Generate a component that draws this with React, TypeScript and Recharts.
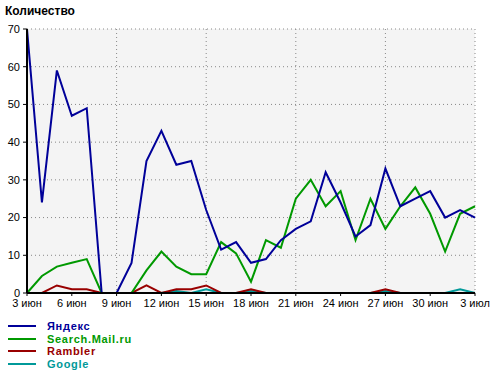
import React from "react";
import { LineChart, Line, XAxis, YAxis, CartesianGrid } from "recharts";

const days = [
  "3 июн", "4 июн", "5 июн", "6 июн", "7 июн", "8 июн", "9 июн", "10 июн",
  "11 июн", "12 июн", "13 июн", "14 июн", "15 июн", "16 июн", "17 июн", "18 июн",
  "19 июн", "20 июн", "21 июн", "22 июн", "23 июн", "24 июн", "25 июн", "26 июн",
  "27 июн", "28 июн", "29 июн", "30 июн", "1 июл", "2 июл", "3 июл",
];

const yandex = [70, 24, 59, 47, 49, 0, 0, 8, 35, 43, 34, 35, 22, 11.5, 13.5, 8, 9, 14, 17, 19, 32, 24, 15, 18, 33, 23, 25, 27, 20, 22, 20];
const mail = [0, 4.5, 7, 8, 9, 0, 0, 0, 6, 11, 7, 5, 5, 13.5, 10.5, 3, 14, 12, 25, 30, 23, 27, 14, 25, 17, 23, 28, 21, 11, 21, 23];
const rambler = [0, 0, 2, 1, 1, 0, 0, 0, 2, 0, 1, 1, 2, 0, 0, 1, 0, 0, 0, 0, 0, 0, 0, 0, 1, 0, 0, 0, 0, 0, 0];
const google = [0, 0, 0, 0, 0, 0, 0, 0, 0, 0, 0.5, 0, 1, 0, 0, 0.5, 0, 0, 0, 0, 0, 0, 0, 0, 0.5, 0, 0, 0, 0, 1, 0];

const xTicks = [0, 3, 6, 9, 12, 15, 18, 21, 24, 27, 30];
const yTicks = [0, 10, 20, 30, 40, 50, 60, 70];

const series = [
  { key: "yandex", name: "Яндекс", color: "#000099" },
  { key: "mail", name: "Search.Mail.ru", color: "#009900" },
  { key: "rambler", name: "Rambler", color: "#990000" },
  { key: "google", name: "Google", color: "#009999" },
];

const data = days.map((d, i) => ({
  i,
  yandex: yandex[i],
  mail: mail[i],
  rambler: rambler[i],
  google: google[i],
}));

const FONT = "'Liberation Sans', Arial, sans-serif";

export default function App() {
  return (
    <div style={{ position: "absolute", left: 0, top: 0, width: 500, height: 376, background: "#fff", fontFamily: FONT }}>
      <div style={{ position: "absolute", left: 5, top: 4, fontSize: 12, fontWeight: "bold", color: "#000" }}>
        Количество
      </div>
      <LineChart width={500} height={376} data={data} margin={{ top: 29, right: 25, left: 0, bottom: 63 }}>
        <CartesianGrid stroke="#888" strokeDasharray="1 3" fill="#f4f4f4" />
        <XAxis
          dataKey="i"
          type="number"
          domain={[0, 30]}
          ticks={xTicks}
          tickFormatter={(v: number) => days[v]}
          height={20}
          tickSize={3}
          tickMargin={3}
          axisLine={{ stroke: "#000", strokeWidth: 2 }}
          tickLine={{ stroke: "#000" }}
          tick={{ fill: "#000", fontSize: 11, fontFamily: FONT }}
        />
        <YAxis
          domain={[0, 70]}
          ticks={yTicks}
          width={27}
          tickSize={4}
          tickMargin={3}
          axisLine={{ stroke: "#000", strokeWidth: 2 }}
          tickLine={{ stroke: "#000" }}
          tick={{ fill: "#000", fontSize: 11, fontFamily: FONT }}
        />
        {[...series].reverse().map((s) => (
          <Line
            key={s.key}
            dataKey={s.key}
            stroke={s.color}
            strokeWidth={2}
            dot={false}
            type="linear"
            isAnimationActive={false}
          />
        ))}
      </LineChart>
      <div style={{ position: "absolute", left: 8, top: 320 }}>
        {series.map((s) => (
          <div key={s.key} style={{ display: "flex", alignItems: "center", height: 12.5 }}>
            <div style={{ width: 28, height: 2, background: s.color, marginRight: 11 }} />
            <span style={{ color: s.color, fontWeight: "bold", fontSize: 11, letterSpacing: 0.7, lineHeight: "12px" }}>
              {s.name}
            </span>
          </div>
        ))}
      </div>
    </div>
  );
}
